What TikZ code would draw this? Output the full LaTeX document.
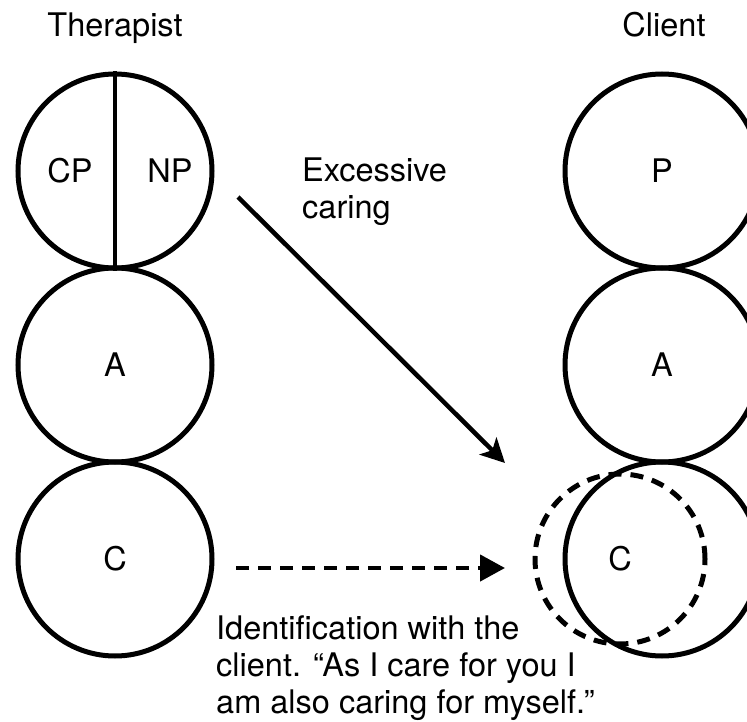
\documentclass[tikz,border=0pt]{standalone}
\usepackage{fontspec}
\setmainfont{TeX Gyre Heros}
\usetikzlibrary{arrows.meta}
\begin{document}
\begin{tikzpicture}[x=1pt, y=-1pt,
  txt/.style={font=\fontsize{32.5}{37}\selectfont, inner sep=0pt},
  ego/.style={circle, draw, line width=5pt, minimum size=194pt, inner sep=0pt, txt},
  egodash/.style={circle, draw, line width=5pt, minimum size=170pt, inner sep=0pt,
    dash pattern=on 13pt off 9pt, txt},
  link/.style={line width=4.5pt},
  tipsolid/.style={-{Stealth[length=24pt, width=24pt, inset=6pt]}},
  tipdash/.style={-{Triangle[length=25pt, width=26pt]}, dash pattern=on 13pt off 9pt}]
\useasboundingbox (0,0) rectangle (747,722);
\clip (0,0) rectangle (747,722);

% column headings
\node[txt, anchor=base] (hT) at (115,37) {Therapist};
\node[txt, anchor=base] (hC) at (664,37) {Client};

% therapist ego states
\node[ego] (tP) at (115,171) {};
\node[ego] (tA) at (115,365) {A};
\node[ego] (tC) at (115,559) {C};
\draw[line width=4.5pt] (tP.north) -- (tP.south);
\node[txt] (tCP) at (70,171) {CP};
\node[txt] (tNP) at (170,171) {NP};

% client ego states
\node[ego] (cP) at (662,171) {P};
\node[ego] (cA) at (662,365) {A};
\node[ego] (cC) at (662,559) {};
\node[egodash] (cCd) at (620,559) {C};

% transactions
\coordinate (s1) at (238,197);
\coordinate (e1) at (505,463);
\draw[link, tipsolid] (s1) -- (e1);
\node[txt, align=left, anchor=north west] (lab1) at (302,158) {Excessive\\caring};

\coordinate (s2) at (236,568);
\coordinate (e2) at (505,568);
\draw[link, tipdash] (s2) -- (e2);
\node[txt, align=left, anchor=north west] (lab2) at (216,616)
  {Identification with the\\client. “As I care for you I\\am also caring for myself.”};
\end{tikzpicture}
\end{document}
